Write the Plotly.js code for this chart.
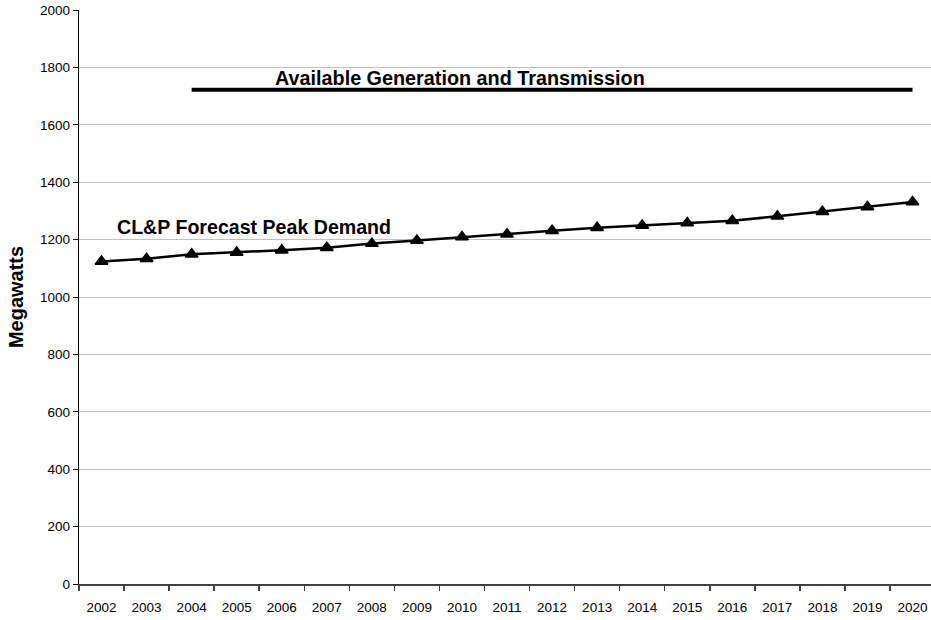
<!DOCTYPE html>
<html>
<head>
<meta charset="utf-8">
<script src="https://cdn.plot.ly/plotly-3.0.1.min.js"></script>
<style>html,body{margin:0;padding:0;background:#fff;}</style>
</head>
<body>
<div id="chart" style="width:931px;height:620px;"></div>
<script>
const years = ["2002","2003","2004","2005","2006","2007","2008","2009","2010","2011","2012","2013","2014","2015","2016","2017","2018","2019","2020"];
const peakDemand = [1124,1133,1149,1155,1163,1172,1186,1197,1209,1219,1231,1241,1249,1258,1266,1281,1297,1314,1331];
const availableYears = ["2004","2020"];
const availableGen = [1722,1722];
const yTicks = [0,200,400,600,800,1000,1200,1400,1600,1800,2000];
const labelAvailable = "Available Generation and Transmission";
const labelDemand = "CL&P Forecast Peak Demand";
const yTitle = "Megawatts";

const traces = [
  {
    x: availableYears, y: availableGen, type: "scatter", mode: "lines",
    line: {color: "#000", width: 4}, hoverinfo: "skip", showlegend: false
  },
  {
    x: years, y: peakDemand, type: "scatter", mode: "lines+markers",
    line: {color: "#000", width: 2.5},
    marker: {symbol: "triangle-up", size: 11, color: "#000", line: {color: "#000", width: 1.5}},
    showlegend: false
  }
];

const layout = {
  width: 931, height: 620,
  margin: {l: 79, r: 0, t: 10, b: 36, pad: 0},
  paper_bgcolor: "#fff", plot_bgcolor: "#fff",
  font: {family: "Liberation Sans, Arial, sans-serif", color: "#000", size: 13.5},
  showlegend: false,
  xaxis: {
    type: "category", categoryorder: "array", categoryarray: years,
    range: [-0.5, 18.41], fixedrange: true,
    tickson: "boundaries", ticks: "outside", ticklen: 5, tickcolor: "#404040", tickwidth: 1.5,
    showline: true, linecolor: "#404040", linewidth: 2,
    showgrid: false, zeroline: false,
    ticklabelstandoff: 10,
    tickfont: {size: 13.5, color: "#000"}
  },
  yaxis: {
    range: [0, 2000], tickvals: yTicks, ticktext: yTicks.map(String),
    ticks: "outside", ticklen: 5, tickcolor: "#000", tickwidth: 1,
    showline: true, linecolor: "#000", linewidth: 1.2,
    showgrid: true, gridcolor: "#c0c0c0", gridwidth: 1,
    zeroline: false,
    tickfont: {size: 13.5, color: "#000"},
    title: {text: yTitle, font: {size: 20, family: "Liberation Sans, Arial, sans-serif", weight: "bold"}, standoff: 11}
  },
  annotations: [
    {x: 3.8, y: 1762, xref: "x", yref: "y", text: "<b>" + labelAvailable + "</b>",
     showarrow: false, xanchor: "left", yanchor: "middle", font: {size: 19.8, color: "#000"}},
    {x: 0.29, y: 1243, xref: "x", yref: "y", text: "<b>" + labelDemand.replace("&", "&amp;") + "</b>",
     showarrow: false, xanchor: "left", yanchor: "middle", font: {size: 19.6, color: "#000"}}
  ]
};

Plotly.newPlot("chart", traces, layout, {displayModeBar: false, staticPlot: true});
</script>
</body>
</html>
